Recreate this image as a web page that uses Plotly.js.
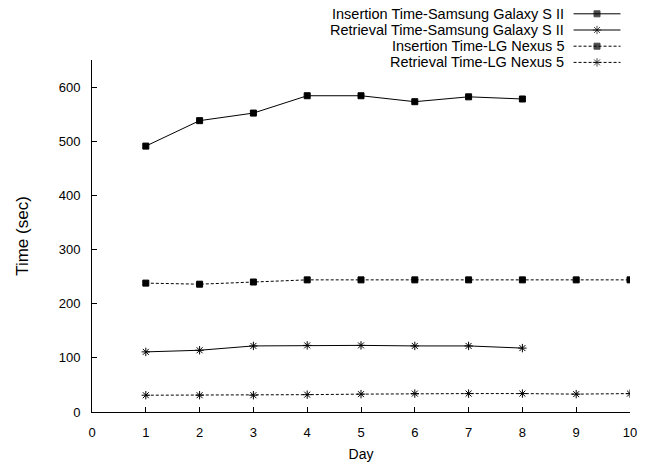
<!DOCTYPE html>
<html>
<head>
<meta charset="utf-8">
<script src="https://cdn.plot.ly/plotly-3.0.1.min.js"></script>
<style>html,body{margin:0;padding:0;background:#fff;}#chart{width:652px;height:468px;}</style>
</head>
<body>
<div id="chart"></div>
<script>
// ---- data ----
const daysSamsung = [1, 2, 3, 4, 5, 6, 7, 8];
const daysLG = [1, 2, 3, 4, 5, 6, 7, 8, 9, 10];
const insertionSamsung = [491, 538, 552, 584, 584, 573, 582, 578];
const retrievalSamsung = [111, 114, 122, 123, 123, 122, 122, 118];
const insertionLG = [238, 236, 240, 244, 244, 244, 244, 244, 244, 244];
const retrievalLG = [31, 31, 31, 32, 33, 34, 34, 34, 33, 34];
const seriesNames = [
  'Insertion Time-Samsung Galaxy S II',
  'Retrieval Time-Samsung Galaxy S II',
  'Insertion Time-LG Nexus 5',
  'Retrieval Time-LG Nexus 5'
];
const xTitle = 'Day';
const yTitle = 'Time (sec)';

// ---- styles ----
const FONT = 'Liberation Sans, Arial, Helvetica, sans-serif';
const styles = [
  {dash: 'solid', symbol: 'square', size: 6},
  {dash: 'solid', symbol: 'asterisk-open', size: 7},
  {dash: '3px,2px', symbol: 'square', size: 6},
  {dash: '3px,2px', symbol: 'asterisk-open', size: 7}
];
const seriesX = [daysSamsung, daysSamsung, daysLG, daysLG];
const seriesY = [insertionSamsung, retrievalSamsung, insertionLG, retrievalLG];

// layout geometry (pixels)
const W = 652, H = 468;
const mL = 92, mR = 21.5, mT = 4, mB = 56;
const plotTopPx = 60, plotBottomPx = 412;
const paperH = H - mT - mB;
const mainTop = (plotBottomPx - plotTopPx) / paperH;
const legTopPx = mT, legBotPx = 72;
const legDomain = [(plotBottomPx - legBotPx) / paperH, 1];
const legRowsPx = [13.8, 30, 46.2, 62.4];
const legSample = [574, 597.5, 621];
const legTextRightPx = 565;

const traces = [];
for (let i = 0; i < 4; i++) {
  const s = styles[i];
  traces.push({
    x: seriesX[i], y: seriesY[i], type: 'scatter', mode: 'lines+markers',
    name: seriesNames[i], showlegend: false,
    line: {color: '#000', width: 1, dash: s.dash},
    marker: {symbol: s.symbol, size: s.size, color: '#000', line: {color: '#000', width: 1}},
    xaxis: 'x', yaxis: 'y'
  });
}
// custom legend samples (text on left, sample on right, like gnuplot)
const annotations = [];
for (let i = 0; i < 4; i++) {
  const s = styles[i];
  const ry = legRowsPx[i];
  traces.push({
    x: legSample, y: [ry, ry, ry], type: 'scatter', mode: 'lines+markers',
    showlegend: false, hoverinfo: 'skip',
    line: {color: '#000', width: 1, dash: s.dash},
    marker: {symbol: s.symbol, size: [0, s.size, 0], color: '#000', line: {color: '#000', width: 1}},
    xaxis: 'x2', yaxis: 'y2', cliponaxis: false
  });
  annotations.push({
    text: seriesNames[i], xref: 'x2', yref: 'y2', x: legTextRightPx, y: ry,
    xanchor: 'right', yanchor: 'middle', showarrow: false, borderpad: 0,
    font: {family: FONT, size: 14.5, color: '#000'}
  });
}

const layout = {
  width: W, height: H,
  margin: {l: mL, r: mR, t: mT, b: mB, pad: 0},
  paper_bgcolor: '#fff', plot_bgcolor: 'rgba(0,0,0,0)',
  hovermode: false,
  showlegend: false,
  font: {family: FONT, color: '#000'},
  xaxis: {
    range: [0, 10], dtick: 1, tick0: 0, ticks: 'inside', ticklen: 5, tickwidth: 1, tickcolor: '#000',
    showline: true, linecolor: '#000', linewidth: 1, showgrid: false, zeroline: false,
    tickfont: {family: FONT, size: 13, color: '#000'}, ticklabelstandoff: 8,
    title: {text: xTitle, font: {family: FONT, size: 14, color: '#000'}, standoff: 10},
    fixedrange: true
  },
  yaxis: {
    domain: [0, mainTop],
    range: [0, 650], dtick: 100, tick0: 0, ticks: 'inside', ticklen: 5, tickwidth: 1, tickcolor: '#000',
    showline: true, linecolor: '#000', linewidth: 1, showgrid: false, zeroline: false,
    tickfont: {family: FONT, size: 13, color: '#000'}, ticklabelstandoff: 8,
    title: {text: yTitle, font: {family: FONT, size: 17, color: '#000'}, standoff: 25},
    fixedrange: true
  },
  xaxis2: {
    overlaying: 'x', anchor: 'y2', range: [mL, W - mR], visible: false, fixedrange: true
  },
  yaxis2: {
    domain: legDomain, anchor: 'x2', range: [legBotPx, legTopPx], visible: false, fixedrange: true
  },
  annotations: annotations
};

Plotly.newPlot('chart', traces, layout, {displayModeBar: false, staticPlot: true});
</script>
</body>
</html>
